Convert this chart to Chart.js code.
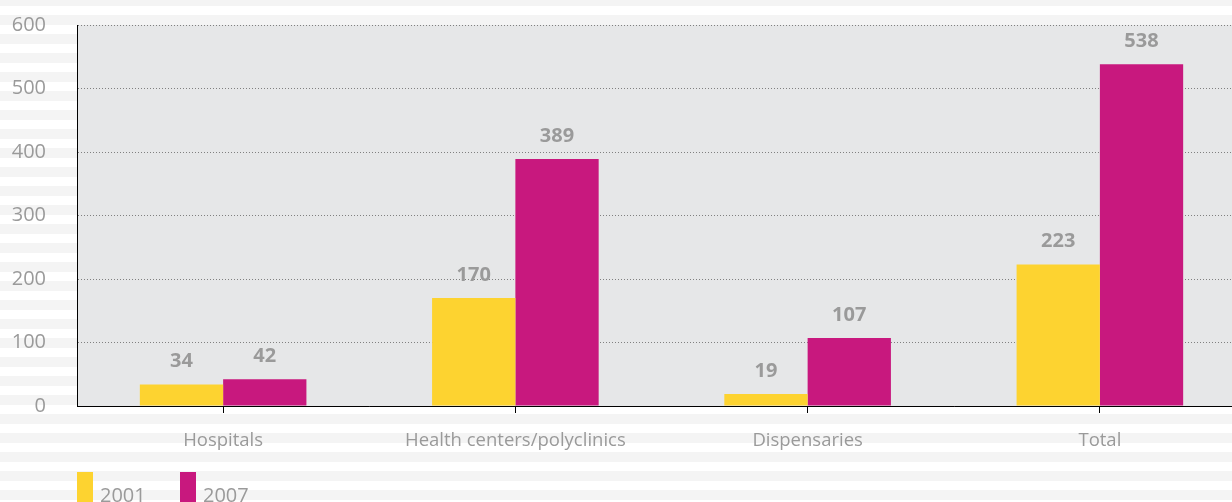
<!DOCTYPE html>
<html>
<head>
<meta charset="utf-8">
<script src="https://cdn.jsdelivr.net/npm/chart.js@4.4.1/dist/chart.umd.min.js"></script>
<style>
  html, body { margin: 0; padding: 0; width: 1232px; height: 502px; overflow: hidden; }
  body {
    background-image: linear-gradient(to bottom, #f4f4f4 0px, #f4f4f4 10px, #ffffff 10px, #ffffff 19px);
    background-size: 100% 19px;
    background-position: 0 15px;
    font-family: 'Open Sans', sans-serif;
  }
  #wrap { position: absolute; left: 0; top: 0; width: 1250px; height: 502px; }
  #legend { position: absolute; left: 77px; top: 472px; display: flex; }
  .item { display: flex; align-items: flex-start; width: 103px; }
  .swatch { width: 16px; height: 44px; margin-right: 7px; }
  .item span.t { padding-top: 13px; font-size: 20px; line-height: 20px; color: #9a9a9a; }
</style>
</head>
<body>
<div id="wrap"><canvas id="chart"></canvas></div>
<div id="legend"></div>
<script>
// Facilities by type, 2001 vs 2007
const categories = ['Hospitals', 'Health centers/polyclinics', 'Dispensaries', 'Total'];
const seriesNames = ['2001', '2007'];
const values2001 = [34, 170, 19, 223];
const values2007 = [42, 389, 107, 538];
const seriesColors = ['#fdd330', '#c8187e'];
const yMin = 0, yMax = 600, yStep = 100;

Chart.defaults.font.family = "'Open Sans', sans-serif";

// grey panel behind the plotting area
const plotBackground = {
  id: 'plotBackground',
  beforeDraw(chart) {
    const { ctx, chartArea: a } = chart;
    ctx.save();
    ctx.fillStyle = '#e6e7e8';
    ctx.fillRect(a.left, a.top, a.right - a.left, a.bottom - a.top);
    ctx.restore();
  }
};

// bold value labels above each bar
const valueLabels = {
  id: 'valueLabels',
  afterDatasetsDraw(chart) {
    const ctx = chart.ctx;
    ctx.save();
    ctx.font = "bold 20px 'Open Sans', sans-serif";
    ctx.fillStyle = '#9a9a9a';
    ctx.textAlign = 'center';
    ctx.textBaseline = 'middle';
    chart.data.datasets.forEach((ds, i) => {
      chart.getDatasetMeta(i).data.forEach((bar, j) => {
        ctx.fillText(String(ds.data[j]), bar.x, bar.y - 23);
      });
    });
    ctx.restore();
  }
};

const chart = new Chart(document.getElementById('chart'), {
  type: 'bar',
  data: {
    labels: categories,
    datasets: [
      { label: seriesNames[0], data: values2001, backgroundColor: seriesColors[0] },
      { label: seriesNames[1], data: values2007, backgroundColor: seriesColors[1] }
    ]
  },
  options: {
    responsive: true,
    maintainAspectRatio: false,
    animation: false,
    categoryPercentage: 0.57,
    barPercentage: 1.0,
    layout: { padding: { top: 25, right: 4, left: 0, bottom: 0 } },
    plugins: { legend: { display: false }, tooltip: { enabled: false } },
    scales: {
      x: {
        grid: { drawOnChartArea: false, drawTicks: true, tickLength: 7, color: '#000', offset: false },
        border: { color: '#000', width: 1 },
        ticks: { color: '#9a9a9a', font: { size: 18.5 }, padding: 17, maxRotation: 0, autoSkip: false },
        afterFit(scale) { scale.height = 96; }
      },
      y: {
        min: yMin, max: yMax,
        ticks: { stepSize: yStep, color: '#9a9a9a', font: { size: 20 }, padding: 31 },
        grid: { color: '#808080', drawTicks: false },
        border: { color: '#000', width: 1, dash: [1, 2] },
        afterFit(scale) {
          scale.width = 77;
          scale.paddingTop = 0;
          scale.paddingBottom = 0;
        }
      }
    }
  },
  plugins: [plotBackground, valueLabels]
});

// legend built from the dataset names and colours
const legend = document.getElementById('legend');
seriesNames.forEach((name, i) => {
  const item = document.createElement('div');
  item.className = 'item';
  const sw = document.createElement('div');
  sw.className = 'swatch';
  sw.style.background = seriesColors[i];
  const t = document.createElement('span');
  t.className = 't';
  t.textContent = name;
  item.appendChild(sw);
  item.appendChild(t);
  legend.appendChild(item);
});
</script>
</body>
</html>
